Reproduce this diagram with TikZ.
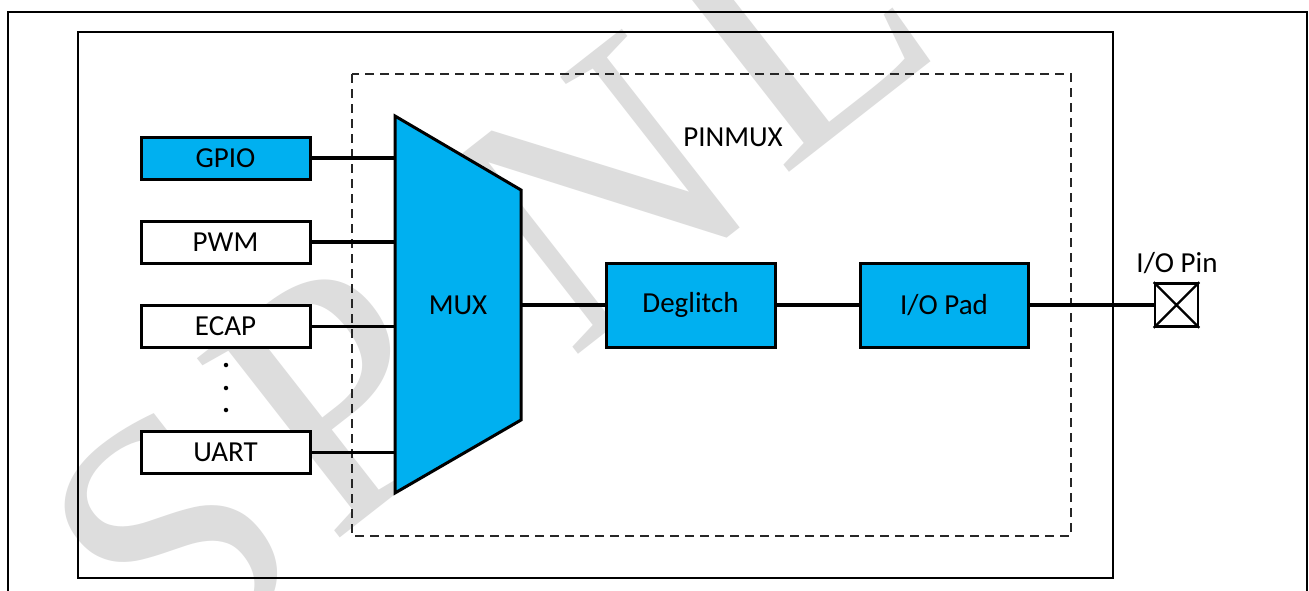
\documentclass[tikz,border=0pt]{standalone}
\usepackage{fontspec}
\setmainfont{Carlito}
\newfontfamily\wmfont{Liberation Serif}
\definecolor{tiblue}{HTML}{00B0F0}
\definecolor{wmgray}{HTML}{DDDDDD}
\begin{document}
\begin{tikzpicture}[x=1pt,y=-1pt,
  txt/.style={font=\fontsize{29}{35}\selectfont, inner sep=0pt},
  blk/.style={txt, draw=black, line width=3pt, minimum width=169pt, minimum height=42pt},
  bigblk/.style={blk, fill=tiblue, minimum height=84pt},
  wire/.style={line width=3.5pt},
  frame/.style={line width=2.3pt},
  dashbox/.style={line width=1.4pt, dash pattern=on 9pt off 6pt, draw=black!85},
  pinbox/.style={draw=black, line width=2.6pt, fill=white, minimum size=43pt, inner sep=0pt},
  wm/.style={font=\wmfont\fontsize{350}{350}\selectfont, text=wmgray, inner sep=0pt, rotate=38},
  dotmark/.style={circle, fill=black, inner sep=0pt, minimum size=4.5pt}
]
\useasboundingbox (0,0) rectangle (1309,590);
\fill[white] (0,0) rectangle (1309,590);
% watermark letters
\node[wm] (wmS) at (172,540) {S};
\node[wm] (wmP) at (337,395) {P};
\node[wm] (wmN) at (600,192) {N};
\node[wm] (wmL) at (795,22) {L};
% frames
\draw[frame] (8,592) -- (8,12) -- (1307,12) -- (1307,592);
\draw[frame] (78,32) rectangle (1113,578);
\draw[dashbox] (352,74) rectangle (1071,536);
\node[txt] (pinmux) at (733,137) {PINMUX};
% source blocks
\node[blk, fill=tiblue] (gpio) at (225.5,158) {GPIO};
\node[blk, fill=white] (pwm) at (225.5,242) {PWM};
\node[blk, fill=white] (ecap) at (225.5,326.5) {ECAP};
\node[blk, fill=white] (uart) at (225.5,452.5) {UART};
\node[dotmark] (dot1) at (226,365) {};
\node[dotmark] (dot2) at (226,388) {};
\node[dotmark] (dot3) at (226,410) {};
% mux
\draw[line width=3pt, fill=tiblue, line join=miter]
  (395,116) coordinate (muxtl) -- (521,190) coordinate (muxtr)
  -- (521,420) coordinate (muxbr) -- (395,493) coordinate (muxbl) -- cycle;
\node[txt] (mux) at (458,305) {MUX};
% blocks right
\node[bigblk] (deglitch) at (690.5,305) {Deglitch};
\node[bigblk, minimum width=168pt] (pad) at (944,305) {I/O Pad};
\node[pinbox] (pin) at (1176.5,305) {};
\draw[line width=2.2pt] (pin.north west) -- (pin.south east) (pin.north east) -- (pin.south west);
\node[txt] (pinlabel) at (1177,263) {I/O Pin};
% connectors
\draw[wire] (gpio.east) -- (gpio.east -| muxtl);
\draw[wire] (pwm.east) -- (pwm.east -| muxtl);
\draw[wire] (ecap.east) -- (ecap.east -| muxtl);
\draw[wire] (uart.east) -- (uart.east -| muxtl);
\draw[wire] (deglitch.west -| muxtr) -- (deglitch.west);
\draw[wire] (deglitch.east) -- (pad.west);
\draw[wire] (pad.east) -- (pin.west);
\end{tikzpicture}
\end{document}
